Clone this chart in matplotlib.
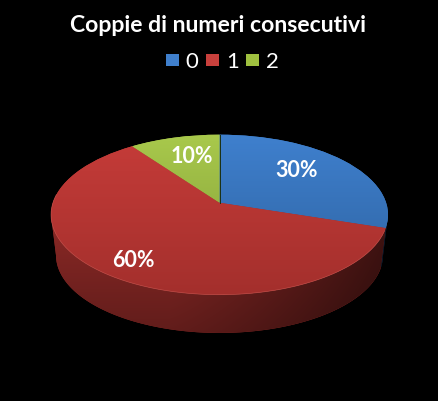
import numpy as np
import matplotlib
matplotlib.use("Agg")
import matplotlib.pyplot as plt
from matplotlib.patches import Patch, Polygon
from matplotlib.transforms import Transform

plt.rcParams["font.family"] = ["Lato", "DejaVu Sans"]

title = "Coppie di numeri consecutivi"
categories = ["0", "1", "2"]
values = [30, 60, 10]
pct_labels = ["30%", "60%", "10%"]

legend_colors = ["#3f7fcc", "#c8403c", "#9fc03f"]
top_colors = [("#3f80ce", "#2d619e"), ("#c63c39", "#a32f2c"), ("#a9c94c", "#7f9b36")]
label_pos = [(297, 170), (133, 260), (192, 156)]

# pie projection, in pixels
cx, cy = 219.5, 203.7
a, b, k = 166.6, 78.2, 0.15
depth = 41
shrink = 0.97


class Tilt(Transform):
    # unit circle -> tilted disc seen in perspective
    input_dims = 2
    output_dims = 2
    is_separable = False

    def transform_non_affine(self, pts):
        pts = np.asarray(pts, dtype=float)
        w = 1 + k * pts[:, 1]
        return np.column_stack([cx + a * pts[:, 0] / w, cy - b * pts[:, 1] / w])


def rim(t):
    w = 1 + k * np.sin(t)
    return a * np.cos(t) / w, b * np.sin(t) / w


def hex2rgb(c):
    return np.array(matplotlib.colors.to_rgb(c))


fig = plt.figure(figsize=(4.38, 4.02), dpi=100, facecolor="black")
ax = fig.add_axes([0, 0, 1, 1])

wedges, _ = ax.pie(values, startangle=90, counterclock=False, radius=1)
ax.set_aspect("auto")
ax.axis("off")
tilt = Tilt()

# side wall
ys, xs = np.mgrid[0:1:60j, 0:1:200j]
fx = 1 - 0.55 * np.clip((xs - 0.35) / 0.65, 0, 1) ** 1.2
fy = 1 - 0.35 * ys
wall_shade = (fx * fy)[..., None]
wall_colors = ["#16304e", "#922b28", "#6f8a30"]

for w, col in zip(wedges, wall_colors):
    t = np.radians(np.linspace(w.theta1, w.theta2, 300))
    t = t[np.sin(t) < -k]
    if len(t) < 2:
        continue
    x, y = rim(t)
    upper = np.column_stack([cx + x, cy - y])
    lower = np.column_stack([cx + x * shrink, cy - y * shrink + depth])
    poly = Polygon(np.vstack([upper, lower[::-1]]), closed=True, fc=col, ec="none",
                   zorder=1, transform=ax.transData)
    ax.add_patch(poly)
    img = ax.imshow(wall_shade * hex2rgb(col), extent=(cx - a * 1.02, cx + a * 1.02, 340, 200),
                    aspect="auto", zorder=1.5, interpolation="bilinear")
    img.set_clip_path(poly)

# top faces with a vertical gradient
grad = np.linspace(0, 1, 200)[:, None, None]
for w, (c1, c2) in zip(wedges, top_colors):
    w.set_transform(tilt + ax.transData)
    w.set_facecolor(c1)
    w.set_edgecolor("none")
    w.set_zorder(2)
    img = ax.imshow(hex2rgb(c1) * (1 - grad) + hex2rgb(c2) * grad,
                    extent=(cx - 175, cx + 175, cy + 95, cy - 70),
                    aspect="auto", zorder=2.5, interpolation="bilinear")
    img.set_clip_path(w)

# slice dividers and front highlight
ax.plot([cx, cx], [cy - b / (1 + k), cy], color="#1c3010", lw=0.7, zorder=3)
t = np.radians(np.linspace(-186, -20, 200))
x, y = rim(t)
ax.plot(cx + x, cy - y, color="#d0605a", lw=0.5, alpha=0.6, zorder=3)

for txt, (px, py) in zip(pct_labels, label_pos):
    ax.text(px, py + 1, txt, color="white", fontsize=15.5, fontweight="bold",
            ha="center", va="center", zorder=4)

ax.set_xlim(0, 438)
ax.set_ylim(402, 0)

fig.text(218.5 / 438, 1 - 25 / 402, title, color="white", fontsize=16.6, fontweight="bold",
         ha="center", va="center")

handles = [Patch(facecolor=c, edgecolor="none") for c in legend_colors]
fig.legend(handles, categories, loc="center", bbox_to_anchor=(222.5 / 438, 1 - 62.5 / 402), ncol=3,
           frameon=False, labelcolor="white", fontsize=16, handlelength=0.58, handleheight=0.45,
           handletextpad=0.3, columnspacing=0.35, borderpad=0)

fig.savefig("out.png", dpi=100, facecolor="black")
